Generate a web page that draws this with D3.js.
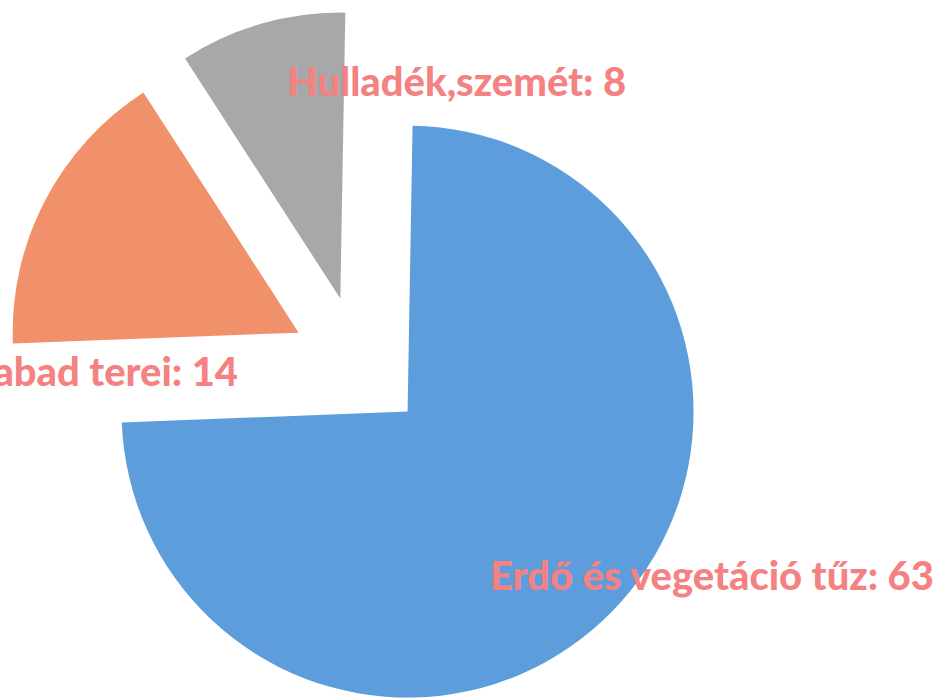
<!DOCTYPE html>
<html>
<head>
<meta charset="utf-8">
<script src="https://cdn.jsdelivr.net/npm/d3@7"></script>
<style>
  html, body { margin: 0; padding: 0; background: #fff; overflow: hidden; }
</style>
</head>
<body>
<div id="chart"></div>
<script>
// pie data
const categories = ["Erdő és vegetáció tűz", "Települések szabad terei", "Hulladék,szemét"];
const values = [63, 14, 8];
const colors = ["#5e9ddb", "#f1916b", "#a6a8aa"];

const width = 943;
const height = 698;
const center = { x: 359, y: 364 };
const radius = 286;
const explode = 68;

// label anchor points (layout only)
const labelPos = [
  { x: 490, y: 590, anchor: "start" },
  { x: 238, y: 386, anchor: "end" },
  { x: 287, y: 96, anchor: "start" }
];

const svg = d3.select("#chart")
  .append("svg")
  .attr("width", width)
  .attr("height", height);

const pie = d3.pie().sort(null).value(d => d);
const arcs = pie(values);

const arc = d3.arc().innerRadius(0).outerRadius(radius);

// scanned picture is slightly tilted
const g = svg.append("g")
  .attr("transform", `translate(${center.x},${center.y}) rotate(1)`);

g.selectAll(".slice")
  .data(arcs)
  .enter()
  .append("path")
  .attr("class", "slice")
  .attr("transform", d => {
    const mid = (d.startAngle + d.endAngle) / 2;
    return `translate(${explode * Math.sin(mid)},${-explode * Math.cos(mid)})`;
  })
  .attr("d", arc)
  .attr("fill", (d, i) => colors[i]);

// labels
const labels = svg.selectAll(".label")
  .data(arcs)
  .enter()
  .append("text")
  .attr("class", "label")
  .attr("x", (d, i) => labelPos[i].x)
  .attr("y", (d, i) => labelPos[i].y)
  .attr("text-anchor", (d, i) => labelPos[i].anchor)
  .attr("font-family", "Lato, 'Open Sans', sans-serif")
  .attr("font-weight", "900")
  .attr("font-size", "40px")
  .attr("fill", "#f58282")
  .text((d, i) => categories[i] + ": " + values[i]);

// fit the font size to the label width seen in the picture
const first = labels.filter((d, i) => i === 0).node();
const w = first.getComputedTextLength();
labels.attr("font-size", (40 * 444 / w) + "px");
</script>
</body>
</html>
